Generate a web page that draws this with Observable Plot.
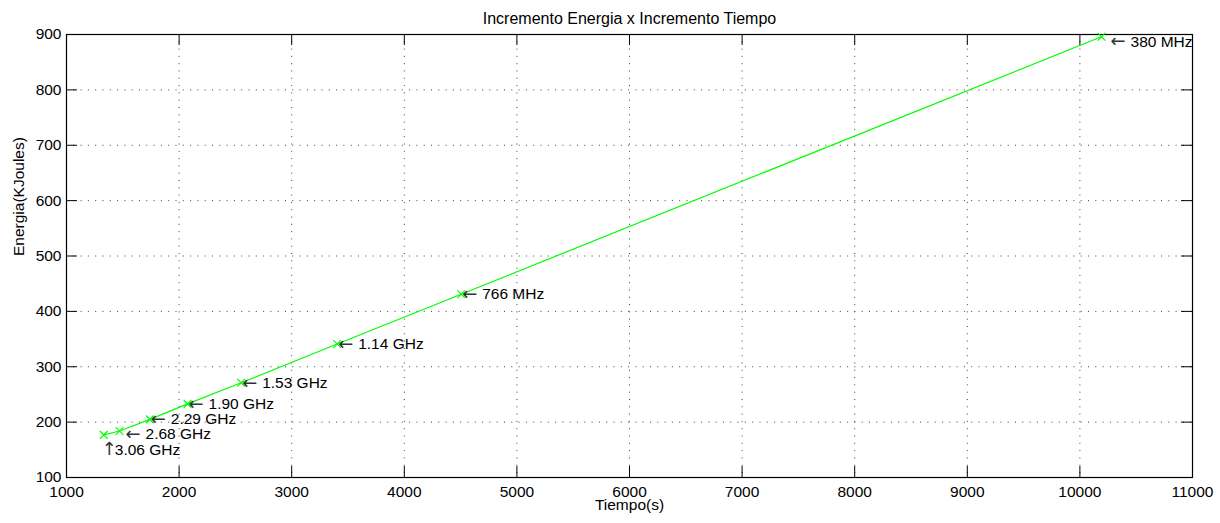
<!DOCTYPE html>
<html>
<head>
<meta charset="utf-8">
<script src="https://cdn.jsdelivr.net/npm/d3@7"></script>
<script src="https://cdn.jsdelivr.net/npm/@observablehq/plot@0.6"></script>
<style>
  html, body { margin: 0; padding: 0; background: #fff; }
  #chart svg { display: block; }
</style>
</head>
<body>
<div id="chart"></div>
<script>
// Energy consumed vs. run time for each CPU frequency step
const tiempo  = [1331, 1471, 1740, 2075, 2551, 3404, 4505, 10192];
const energia = [177, 184, 205, 233, 271, 341, 431, 896];
const frecuencias = ["3.06 GHz", "2.68 GHz", "2.29 GHz", "1.90 GHz", "1.53 GHz", "1.14 GHz", "766 MHz", "380 MHz"];

const xTicks = [1000, 2000, 3000, 4000, 5000, 6000, 7000, 8000, 9000, 10000, 11000];
const yTicks = [100, 200, 300, 400, 500, 600, 700, 800, 900];

const titulo = "Incremento Energia x Incremento Tiempo";
const xLabel = "Tiempo(s)";
const yLabel = "Energia(KJoules)";

// small pixel nudges so crowded annotations don't sit on the markers
const nudgeX = [0, 5, 0, 0, 0, 0, 0, 8];
const nudgeY = [0, 3, 0, 0, 0, 0, 0, 5];

const puntos = tiempo.map((t, i) => ({t, e: energia[i], f: frecuencias[i], i}));

const W = 1220, H = 523;
const mL = 66, mR = 28, mT = 34, mB = 46;
const innerW = W - mL - mR, innerH = H - mT - mB;
const tickLen = 11;
const fs = 15.5;
const font = "Liberation Sans, Arial, Helvetica, sans-serif";
const arrowFont = "DejaVu Sans, sans-serif";

// "← label" annotations to the right of each marker
const flechas = puntos.slice(1).flatMap(p => [
  Plot.text([p], {x: "t", y: "e", text: () => "\u2190", textAnchor: "start",
    dx: 1 + nudgeX[p.i], dy: nudgeY[p.i], fontFamily: arrowFont, fontSize: 18, fill: "#333"}),
  Plot.text([p], {x: "t", y: "e", text: "f", textAnchor: "start",
    dx: 21 + nudgeX[p.i], dy: nudgeY[p.i], fontSize: fs, fill: "#000"})
]);

const chart = Plot.plot({
  width: W,
  height: H,
  marginLeft: mL,
  marginRight: mR,
  marginTop: mT,
  marginBottom: mB,
  style: {fontFamily: font, fontSize: fs + "px", color: "#000", background: "#fff"},
  x: {domain: [1000, 11000]},
  y: {domain: [100, 900]},
  marks: [
    // dotted grid
    Plot.gridX(xTicks.slice(1, -1), {stroke: "#000", strokeOpacity: 0.75, strokeDasharray: "1,6.3"}),
    Plot.gridY(yTicks.slice(1, -1), {stroke: "#000", strokeOpacity: 0.75, strokeDasharray: "1,6.3"}),
    // inward ticks on all four sides
    Plot.tickX(xTicks, {x: d => d, insetTop: innerH - tickLen, stroke: "#000"}),
    Plot.tickX(xTicks, {x: d => d, insetBottom: innerH - tickLen, stroke: "#000"}),
    Plot.tickY(yTicks, {y: d => d, insetRight: innerW - tickLen, stroke: "#000"}),
    Plot.tickY(yTicks, {y: d => d, insetLeft: innerW - tickLen, stroke: "#000"}),
    Plot.axisX(xTicks, {tickSize: 0, tickPadding: 8, label: null, fontSize: fs, tickFormat: d => String(d)}),
    Plot.axisY(yTicks, {tickSize: 0, tickPadding: 5, label: null, fontSize: fs, tickFormat: d => String(d)}),
    Plot.frame({stroke: "#000", strokeWidth: 1.2}),
    // series
    Plot.line(puntos, {x: "t", y: "e", stroke: "#00ff00", strokeWidth: 1.2}),
    Plot.dot(puntos, {x: "t", y: "e", symbol: "times", r: 3.6, stroke: "#00ff00", strokeWidth: 1.2}),
    ...flechas,
    // first point: "↑ label" below the marker
    Plot.text(puntos.slice(0, 1), {x: "t", y: "e", text: () => "\u2191", textAnchor: "start", lineAnchor: "top", dx: -2, dy: 7, fontFamily: arrowFont, fontSize: 18, fill: "#333"}),
    Plot.text(puntos.slice(0, 1), {x: "t", y: "e", text: "f", textAnchor: "start", lineAnchor: "top", dx: 11, dy: 9, fontSize: fs, fill: "#000"}),
    // titles
    Plot.text([titulo], {frameAnchor: "top", lineAnchor: "middle", dy: -16, fontSize: 16, fill: "#000"}),
    Plot.text([xLabel], {frameAnchor: "bottom", lineAnchor: "middle", dy: 28, fontSize: fs, fill: "#000"}),
    Plot.text([yLabel], {frameAnchor: "left", lineAnchor: "middle", dx: -47, rotate: -90, fontSize: fs, fill: "#000"})
  ]
});

document.getElementById("chart").append(chart);
</script>
</body>
</html>
